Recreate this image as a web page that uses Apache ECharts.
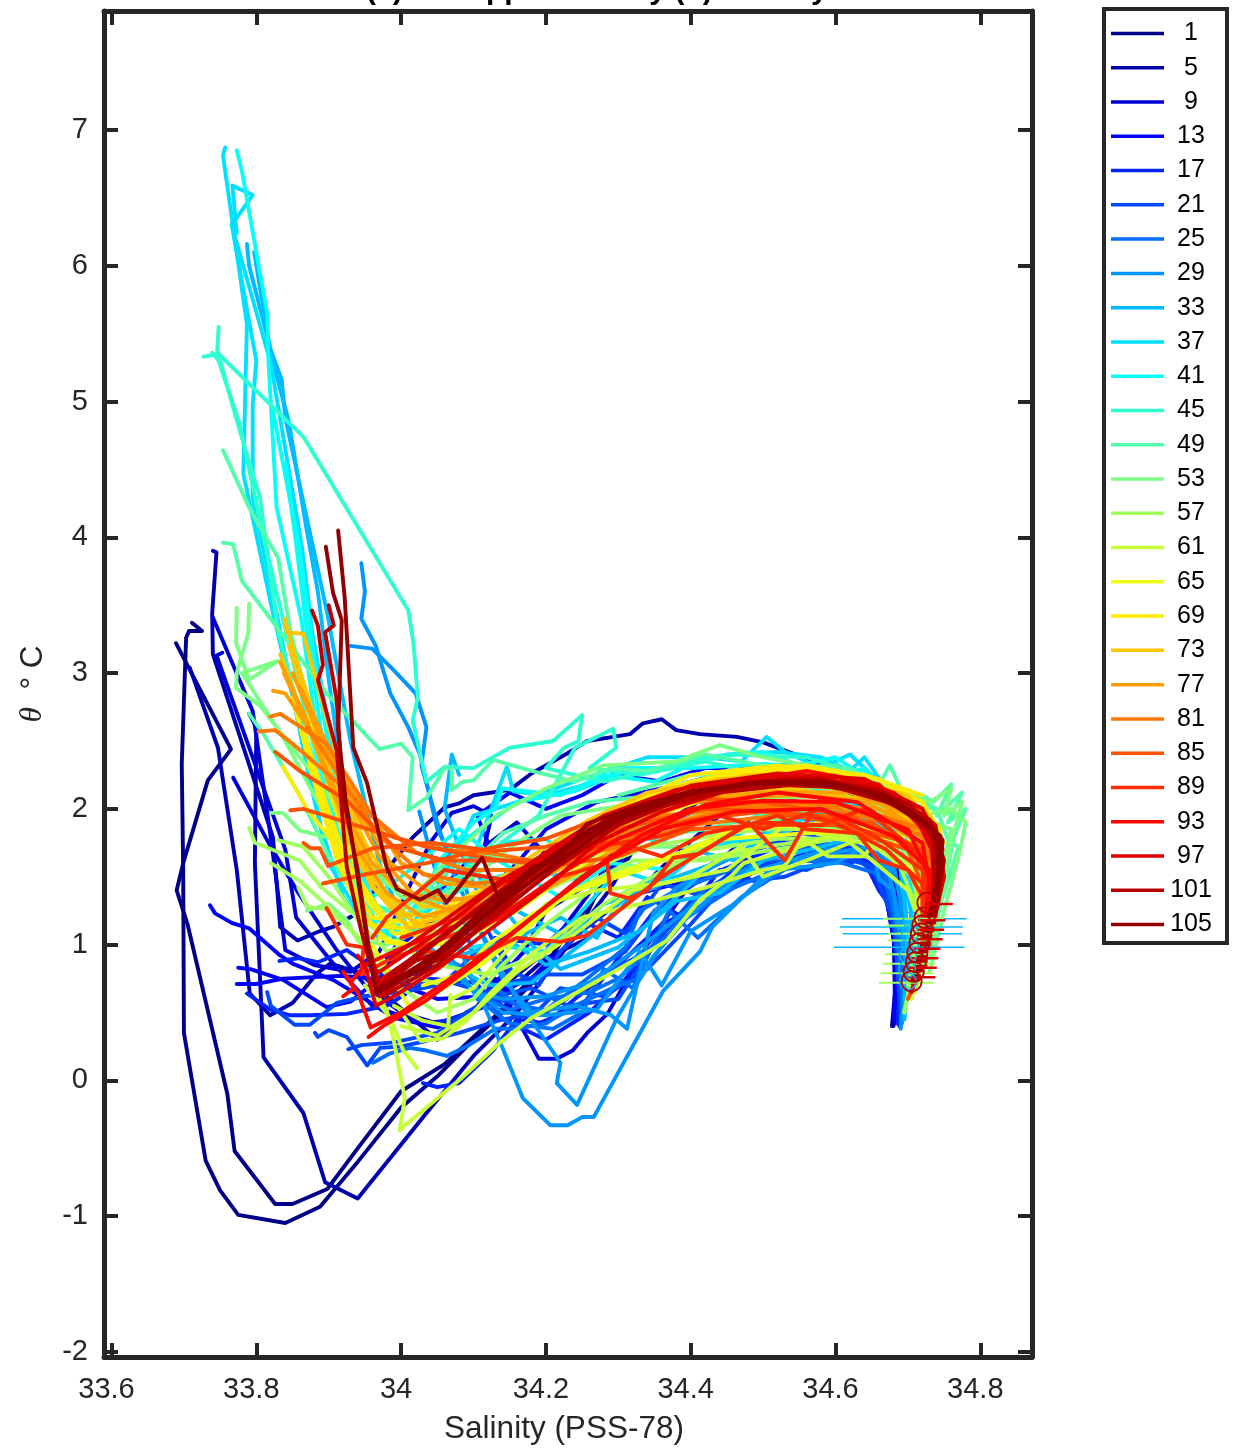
<!DOCTYPE html>
<html><head><meta charset="utf-8">
<style>html,body{margin:0;padding:0;background:#fff}#c{width:1234px;height:1448px}</style>
<script src="https://cdn.jsdelivr.net/npm/echarts@6/dist/echarts.min.js"></script>
</head><body><div id="c"></div>
<script>
const legendCasts=[1,5,9,13,17,21,25,29,33,37,41,45,49,53,57,61,65,69,73,77,81,85,89,93,97,101,105];
const castColors=['#000089','#0000af','#0000d5','#0000fb','#0023ff','#0049ff','#006fff','#0095ff','#00bbff','#00e1ff','#08fff7','#2effd1','#55ffaa','#7bff84','#a1ff5e','#c7ff38','#edff12','#ffeb00','#ffc500','#ff9e00','#ff7800','#ff5200','#ff2c00','#ff0600','#df0000','#b90000','#930000'];
const xTicks=[33.6,33.8,34,34.2,34.4,34.6,34.8];
const yTicks=[-2,-1,0,1,2,3,4,5,6,7];

const g01=[
[[33.711,3.37],[33.725,3.31],[33.707,3.31],[33.703,3.26],[33.697,2.33],[33.699,1.55],[33.70,.35],[33.73,-.59],[33.75,-.81],[33.775,-.99],[33.84,-1.05],[33.888,-.93],[33.94,-.6],[34.0,-.2],[34.05,.03],[34.1,.3],[34.15,.55],[34.215,.9],[34.25,1.15],[34.285,1.55],[34.34,1.9],[34.4,2.17],[34.47,2.3],[34.55,2.33],[34.62,2.25],[34.67,1.95],[34.685,1.6],[34.69,1.1],[34.683,.7],[34.678,.4]],
[[33.689,3.22],[33.765,2.44],[33.733,2.21],[33.699,1.6],[33.69,1.4],[33.705,1.15],[33.76,-.1],[33.77,-.52],[33.826,-.91],[33.85,-.91],[33.898,-.8],[33.94,-.5],[34.0,-.08],[34.06,.12],[34.12,.42],[34.2,.86],[34.26,1.3],[34.31,1.62],[34.36,2.0],[34.42,2.2],[34.5,2.25],[34.6,2.2],[34.66,1.9],[34.675,1.55],[34.69,1.0],[34.68,.42]]
];
const g05=[
[[33.74,3.9],[33.745,3.89],[33.739,3.44],[33.74,3.14],[33.823,1.79],[33.833,1.13],[33.857,1.03],[33.888,1.1],[33.906,1.13],[33.945,1.25],[33.98,1.55],[34.016,1.79],[34.06,2.01],[34.08,2.04],[34.1,2.1],[34.15,2.14],[34.18,2.26],[34.23,2.41],[34.257,2.5],[34.293,2.53],[34.316,2.55],[34.334,2.63],[34.36,2.66],[34.38,2.58],[34.413,2.55],[34.464,2.53],[34.5,2.49],[34.555,2.38],[34.6,2.28],[34.65,2.05],[34.668,1.75],[34.69,1.2],[34.685,.7],[34.68,.4]],
[[33.708,3.04],[33.747,2.45],[33.773,1.55],[33.791,.64],[33.819,.48],[33.85,.57],[33.884,.79],[33.902,.86],[33.94,.8],[33.98,.62],[34.05,.3],[34.09,.5],[34.14,.62],[34.2,.9],[34.26,1.05],[34.31,1.3],[34.37,1.62],[34.44,1.95],[34.52,2.05],[34.6,1.9],[34.655,1.65],[34.66,1.42],[34.672,1.55],[34.675,1.3],[34.69,1.28],[34.682,1.12],[34.692,.95],[34.683,.6],[34.682,.42]],
[[33.79,2.7],[33.8,2.6],[33.798,1.6],[33.81,.17],[33.865,-.24],[33.895,-.75],[33.94,-.87],[34.035,-.24],[34.1,.18],[34.16,.5],[34.22,.92],[34.29,1.42],[34.33,1.78],[34.41,2.05],[34.5,2.1],[34.6,2.0],[34.665,1.7],[34.68,1.2],[34.686,.6]]
];
const g09=[
[[33.74,3.41],[33.795,2.72],[33.82,1.79],[33.84,.96],[33.88,.85],[33.93,.8],[33.97,.95],[34.0,1.3],[34.04,1.75],[34.07,1.97],[34.1,2.02],[34.125,1.95],[34.115,1.72],[34.16,1.9],[34.21,1.6],[34.26,1.68],[34.31,1.95],[34.38,2.1],[34.47,2.2],[34.56,2.15],[34.64,1.95],[34.665,1.6],[34.672,1.35],[34.685,1.45],[34.69,1.0],[34.684,.45]],
[[33.768,2.23],[33.82,1.72],[33.858,1.38],[33.911,.96],[33.95,.7],[34.0,.5],[34.05,.42],[34.1,.5],[34.13,.75],[34.19,.16],[34.215,.16],[34.237,.22],[34.257,.35],[34.285,.49],[34.34,1.0],[34.4,1.45],[34.47,1.75],[34.56,1.85],[34.655,1.72],[34.66,1.45],[34.68,1.2],[34.685,.5]],
[[33.753,3.15],[33.745,3.13],[33.84,1.7],[33.855,1.2],[33.9,.9],[33.96,.55],[34.03,.42],[34.08,.45],[34.12,.6],[34.2,.95],[34.27,1.45],[34.3,1.8],[34.36,2.15],[34.44,2.25],[34.52,2.2],[34.6,2.05],[34.665,1.75],[34.68,1.2],[34.682,.6]]
];
const g13=[
[[33.736,1.29],[33.743,1.23],[33.766,1.16],[33.79,1.12],[33.833,.92],[33.85,.86],[33.906,.74],[33.953,.59],[33.99,.46],[34.05,.39],[34.1,.5],[34.13,.72],[34.17,.95],[34.2,1.25],[34.29,1.55],[34.35,1.88],[34.43,2.02],[34.55,2.03],[34.64,1.85],[34.665,1.5],[34.685,.9],[34.68,.45]],
[[33.775,.83],[33.792,.82],[33.837,.74],[33.897,.54],[33.93,.58],[33.97,.75],[34.0,1.0],[34.06,1.25],[34.12,1.4],[34.16,1.6],[34.2,1.85],[34.27,2.05],[34.36,2.15],[34.48,2.2],[34.57,2.1],[34.65,1.9],[34.668,1.55],[34.688,1.0],[34.685,.45]],
[[33.773,.71],[33.8,.71],[33.837,.75],[33.916,.77],[33.945,.76],[33.99,.72],[34.05,.6],[34.12,.62],[34.18,.75],[34.25,1.1],[34.31,1.35],[34.38,1.45],[34.46,1.65],[34.54,1.78],[34.64,1.7],[34.67,1.35],[34.688,.8],[34.684,.42]],
[[33.98,.9],[34.03,1.25],[34.08,1.55],[34.12,1.75],[34.105,1.95],[34.15,2.12],[34.2,2.0],[34.25,2.1],[34.3,2.25],[34.36,2.2],[34.42,2.3],[34.5,2.3],[34.58,2.25],[34.64,2.1],[34.665,1.7],[34.69,1.0]]
];
const g17=[
[[33.787,.64],[33.82,.52],[33.846,.48],[33.874,.48],[33.925,.49],[33.98,.55],[34.04,.75],[34.1,.72],[34.14,.55],[34.19,.42],[34.25,.55],[34.3,.9],[34.35,1.25],[34.42,1.5],[34.52,1.72],[34.63,1.72],[34.66,1.4],[34.68,1.25],[34.69,.8],[34.686,.42]],
[[33.832,.88],[33.858,.9],[33.885,.87],[33.925,.96],[33.96,.83],[34.0,.7],[34.06,.9],[34.1,.75],[34.14,.45],[34.2,.3],[34.26,.5],[34.31,.75],[34.39,1.25],[34.46,1.55],[34.56,1.75],[34.64,1.62],[34.672,1.5],[34.678,1.2],[34.692,.7],[34.688,.4]],
[[34.03,-.02],[34.05,-.05],[34.08,-.02],[34.127,.22],[34.16,.45],[34.2,.42],[34.24,.6],[34.3,.85],[34.36,1.15],[34.42,1.3],[34.5,1.58],[34.6,1.72],[34.66,1.55],[34.685,1.0],[34.69,.45]],
[[34.05,.42],[34.12,.55],[34.15,.85],[34.13,1.05],[34.2,1.0],[34.24,1.2],[34.3,1.05],[34.34,1.35],[34.39,1.2],[34.44,1.55],[34.5,1.45],[34.56,1.7],[34.62,1.6],[34.66,1.7],[34.668,1.45],[34.678,1.25],[34.69,1.0],[34.69,.55]]
];
const g21=[
[[33.815,.65],[33.82,.55],[33.853,.41],[33.874,.41],[33.911,.57],[33.95,.62],[34.01,.66],[34.07,.72],[34.115,.65],[34.15,.72],[34.2,.78],[34.25,.78],[34.31,.95],[34.36,1.3],[34.43,1.6],[34.55,1.82],[34.65,1.75],[34.675,1.35],[34.695,.8],[34.69,.42]],
[[33.881,.35],[33.885,.32],[33.9,.37],[33.925,.32],[33.933,.26],[33.953,.11],[33.971,.24],[34.0,.25],[34.026,.28],[34.08,.35],[34.14,.45],[34.2,.5],[34.27,.75],[34.34,.95],[34.41,1.38],[34.47,1.55],[34.58,1.75],[34.66,1.62],[34.68,1.2],[34.69,.5]],
[[33.927,.23],[33.945,.26],[33.99,.28],[34.05,.35],[34.09,.5],[34.13,.62],[34.18,.68],[34.23,.55],[34.3,.6],[34.33,.85],[34.37,1.15],[34.44,1.45],[34.53,1.62],[34.62,1.68],[34.67,1.45],[34.69,1.0],[34.69,.45]],
[[34.0,.7],[34.06,.72],[34.11,.98],[34.14,.85],[34.19,.7],[34.22,.95],[34.27,1.2],[34.31,1.08],[34.36,1.45],[34.42,1.35],[34.48,1.62],[34.56,1.55],[34.63,1.72],[34.67,1.6],[34.68,1.28],[34.695,1.05],[34.692,.5]],
[[34.12,1.1],[34.15,.8],[34.13,.6],[34.19,.52],[34.22,.68],[34.28,.62],[34.34,.82],[34.4,1.15],[34.45,1.45],[34.53,1.5],[34.6,1.65],[34.65,1.58],[34.675,1.25],[34.69,.9],[34.69,.5]]
];
const g25=[
[[33.961,.13],[33.985,.2],[34.012,.24],[34.035,.22],[34.063,.18],[34.09,.25],[34.13,.38],[34.16,.38],[34.2,.42],[34.24,.55],[34.3,.7],[34.33,.75],[34.38,1.15],[34.42,1.42],[34.5,1.55],[34.58,1.58],[34.66,1.75],[34.675,1.35],[34.695,.9],[34.69,.4]],
[[34.06,.9],[34.09,.82],[34.11,.62],[34.15,.52],[34.2,.6],[34.26,.65],[34.3,.75],[34.35,.98],[34.395,1.2],[34.46,1.42],[34.54,1.6],[34.64,1.68],[34.672,1.5],[34.695,1.1],[34.692,.5]],
[[34.09,1.1],[34.1,.9],[34.11,.78],[34.16,.55],[34.2,.52],[34.25,.72],[34.31,.98],[34.33,1.25],[34.38,1.4],[34.48,1.6],[34.6,1.75],[34.67,1.7],[34.68,1.3],[34.695,.5]],
[[34.1,.62],[34.15,.42],[34.21,.38],[34.25,.5],[34.28,.82],[34.32,.68],[34.37,1.25],[34.41,1.05],[34.47,1.35],[34.55,1.62],[34.61,1.6],[34.66,1.52],[34.685,1.3],[34.7,1.0],[34.695,.6]]
];
const g29=[
[[34.025,1.98],[34.06,1.3],[34.09,.85],[34.14,.24],[34.168,-.13],[34.206,-.33],[34.23,-.33],[34.25,-.27],[34.266,-.27],[34.362,.66],[34.413,.95],[34.43,1.13],[34.5,1.5],[34.523,1.6],[34.6,1.72],[34.66,1.8],[34.68,1.4],[34.7,.8],[34.69,.38]],
[[33.945,3.81],[33.95,3.6],[33.945,3.4],[33.965,3.2],[33.985,2.85],[34.01,2.6],[34.026,2.4],[34.05,1.85],[34.08,1.55],[34.11,1.1],[34.16,.6],[34.22,.13],[34.215,-.02],[34.243,-.18],[34.298,.46],[34.348,.91],[34.395,1.2],[34.46,1.5],[34.56,1.65],[34.65,1.72],[34.675,1.5],[34.7,.9],[34.692,.42]],
[[33.93,3.2],[33.96,3.18],[33.99,3.02],[34.02,2.85],[34.035,2.6],[34.028,2.32],[34.05,1.9],[34.07,1.55],[34.1,1.2],[34.14,.75],[34.18,.5],[34.24,.55],[34.29,.48],[34.312,.38],[34.348,1.23],[34.38,1.42],[34.44,1.6],[34.53,1.85],[34.64,1.9],[34.68,1.6],[34.7,1.0],[34.695,.45]],
[[34.08,.75],[34.14,.5],[34.2,.48],[34.27,.52],[34.33,.95],[34.36,.7],[34.4,1.1],[34.46,1.3],[34.52,1.55],[34.6,1.6],[34.65,1.75],[34.66,1.48],[34.68,1.4],[34.685,1.15],[34.7,.9],[34.696,.5]],
[[34.05,1.05],[34.1,.65],[34.14,.6],[34.2,.62],[34.26,.72],[34.34,1.02],[34.44,1.45],[34.52,1.68],[34.62,1.82],[34.67,1.65],[34.695,1.3]]
];
const g33=[
[[33.787,6.16],[33.79,6.0],[33.82,5.38],[33.835,5.16],[33.84,4.88],[33.898,3.44],[33.93,2.5],[33.97,1.6],[34.0,1.2],[34.03,1.02],[34.07,.85],[34.12,.7],[34.18,.72],[34.26,1.05],[34.32,1.35],[34.38,1.5],[34.46,1.65],[34.56,1.9],[34.64,2.05],[34.69,1.8],[34.705,1.2],[34.695,.6]],
[[33.797,6.1],[33.82,5.35],[33.845,4.85],[33.868,4.1],[33.885,3.6],[33.9,2.95],[33.92,2.2],[33.955,1.4],[33.99,1.05],[34.05,.88],[34.1,.95],[34.16,1.05],[34.22,1.2],[34.27,1.05],[34.3,1.3],[34.38,1.6],[34.48,1.85],[34.58,1.95],[34.66,1.95],[34.695,1.5],[34.7,.9],[34.695,.45]],
[[34.08,2.25],[34.07,2.4],[34.06,2.0],[34.08,1.72],[34.1,1.45],[34.13,1.1],[34.2,.85],[34.26,.95],[34.33,1.1],[34.42,1.55],[34.52,1.9],[34.62,2.0],[34.68,1.8],[34.705,1.3],[34.7,.7]],
[[34.03,1.2],[34.1,1.15],[34.16,1.25],[34.23,1.05],[34.28,1.3],[34.35,1.42],[34.4,1.7],[34.46,1.62],[34.52,1.92],[34.6,1.85],[34.66,2.0],[34.7,1.7],[34.71,1.1]],
[[34.1,1.55],[34.14,1.28],[34.18,1.0],[34.22,.82],[34.3,.98],[34.38,1.32],[34.44,1.38],[34.5,1.62],[34.58,1.72],[34.66,1.85],[34.69,1.55],[34.7,1.1],[34.695,.65]]
];
const g37=[
[[33.757,6.87],[33.754,6.81],[33.787,5.57],[33.782,4.47],[33.823,3.44],[33.86,2.6],[33.89,1.85],[33.92,1.35],[33.96,1.05],[34.0,1.1],[34.05,1.3],[34.1,1.65],[34.146,2.31],[34.155,2.13],[34.2,2.1],[34.27,2.2],[34.31,2.3],[34.36,2.3],[34.45,2.4],[34.52,2.42],[34.58,2.38],[34.62,2.28],[34.64,2.38],[34.69,2.0],[34.715,1.4],[34.705,.8]],
[[33.773,6.24],[33.767,6.59],[33.795,6.52],[33.766,6.3],[33.82,5.28],[33.863,3.93],[33.877,3.31],[33.9,2.6],[33.92,1.9],[33.96,1.2],[34.01,1.1],[34.06,1.5],[34.1,1.95],[34.16,2.05],[34.25,2.22],[34.34,2.38],[34.42,2.38],[34.47,2.35],[34.505,2.53],[34.53,2.42],[34.58,2.3],[34.62,2.4],[34.68,2.1],[34.715,1.5],[34.71,.9]],
[[33.766,6.3],[33.8,5.3],[33.795,4.98],[33.795,4.29],[33.833,3.31],[33.87,2.3],[33.9,1.6],[33.95,1.15],[34.03,1.1],[34.1,1.35],[34.18,1.55],[34.27,1.45],[34.34,1.6],[34.44,1.75],[34.56,2.05],[34.66,2.05],[34.7,1.7],[34.712,1.1]],
[[34.06,.95],[34.12,1.0],[34.2,.95],[34.25,1.25],[34.3,1.55],[34.36,1.45],[34.42,1.72],[34.5,1.8],[34.58,2.0],[34.66,1.9],[34.7,1.55]]
];
const g41=[
[[33.773,6.85],[33.78,6.7],[33.815,5.65],[33.817,5.28],[33.828,4.22],[33.862,3.4],[33.88,2.7],[33.905,1.95],[33.94,1.3],[33.98,1.05],[34.03,1.35],[34.09,1.78],[34.16,2.05],[34.24,2.13],[34.32,2.3],[34.4,2.3],[34.5,2.33],[34.6,2.3],[34.64,2.28],[34.7,2.0],[34.725,1.4],[34.71,.9]],
[[33.823,4.93],[33.86,3.9],[33.88,3.1],[33.905,2.3],[33.93,1.6],[33.97,1.1],[34.02,1.1],[34.05,1.6],[34.1,1.9],[34.13,2.0],[34.14,2.15],[34.22,2.1],[34.28,2.25],[34.35,2.2],[34.42,2.38],[34.5,2.42],[34.55,2.32],[34.6,2.38],[34.65,2.2],[34.71,1.9],[34.725,1.45],[34.715,1]],
[[33.84,4.55],[33.855,3.95],[33.87,3.3],[33.89,2.55],[33.92,1.8],[33.96,1.35],[34.0,1.5],[34.08,1.85],[34.14,1.6],[34.22,1.35],[34.29,1.6],[34.37,1.55],[34.44,1.75],[34.54,2.15],[34.63,2.15],[34.7,1.95],[34.725,1.4]],
[[34.14,1.75],[34.2,1.78],[34.25,1.55],[34.3,1.85],[34.36,1.75],[34.42,2.0],[34.5,2.0],[34.58,2.2],[34.64,2.3],[34.7,1.95]]
];
const g45=[
[[33.727,5.33],[33.748,5.35],[33.865,4.74],[34.01,3.46],[34.017,3.22],[34.023,2.82],[34.016,2.65],[34.035,2.2],[34.06,2.31],[34.1,2.3],[34.15,2.45],[34.21,2.5],[34.25,2.69],[34.245,2.5],[34.225,2.45],[34.2,2.3],[34.28,2.2],[34.36,2.3],[34.46,2.4],[34.56,2.38],[34.66,2.2],[34.72,1.95],[34.74,1.5],[34.72,1]],
[[33.748,5.55],[33.746,5.38],[33.773,4.86],[33.805,4.29],[33.83,3.31],[33.865,2.6],[33.9,2.0],[33.94,1.45],[33.985,1.15],[34.05,1.35],[34.12,1.68],[34.19,1.95],[34.24,2.45],[34.293,2.59],[34.297,2.45],[34.26,2.3],[34.33,2.25],[34.42,2.35],[34.5,2.25],[34.6,2.28],[34.7,2.05],[34.74,1.6],[34.725,1]],
[[33.739,5.36],[33.748,5.3],[33.776,4.85],[33.81,4.0],[33.85,3.1],[33.88,2.45],[33.92,1.7],[33.96,1.3],[34.01,1.2],[34.1,1.45],[34.2,1.6],[34.3,1.75],[34.4,1.92],[34.52,2.1],[34.62,2.15],[34.72,1.9],[34.74,1.4],[34.72,.9]]
];
const g49=[
[[33.754,3.96],[33.768,3.95],[33.78,3.68],[33.828,3.34],[33.897,2.85],[33.97,2.44],[34.0,2.48],[34.016,2.38],[34.01,1.99],[34.035,2.08],[34.06,2.3],[34.07,2.3],[34.07,2.14],[34.085,2.2],[34.1,2.21],[34.127,2.36],[34.18,2.28],[34.24,2.2],[34.29,2.3],[34.34,2.28],[34.42,2.4],[34.52,2.3],[34.6,2.32],[34.7,2.1],[34.745,1.75],[34.735,1.2]],
[[33.754,4.64],[33.79,4.22],[33.83,3.85],[33.847,3.31],[33.88,2.6],[33.92,1.95],[33.96,1.5],[34.02,1.35],[34.08,1.5],[34.14,1.82],[34.2,1.95],[34.26,2.05],[34.36,2.1],[34.45,2.2],[34.54,2.25],[34.66,2.2],[34.74,2.0],[34.76,1.7],[34.735,1.1]],
[[33.79,2.7],[33.81,2.55],[33.86,2.1],[33.9,1.65],[33.95,1.25],[34.0,1.25],[34.05,1.48],[34.1,1.68],[34.16,1.6],[34.24,1.7],[34.32,1.78],[34.42,1.85],[34.5,1.95],[34.6,2.0],[34.72,2.02],[34.77,1.95],[34.752,1.5],[34.73,1.0]],
[[34.3,2.1],[34.4,2.25],[34.5,2.25],[34.62,2.3],[34.66,2.18],[34.675,2.32],[34.69,2.15],[34.72,2.1],[34.735,2.05],[34.76,2.18],[34.74,1.95],[34.775,2.12],[34.755,1.9],[34.78,2.0],[34.76,1.75],[34.77,1.72],[34.745,1.3],[34.73,.9]]
];
const g53=[
[[33.79,3.51],[33.789,3.3],[33.773,3.0],[33.772,2.89],[33.805,2.76],[33.85,2.45],[33.9,2.1],[33.95,1.55],[34.0,1.25],[34.06,1.6],[34.13,1.95],[34.2,2.15],[34.28,2.32],[34.38,2.35],[34.44,2.47],[34.5,2.38],[34.58,2.3],[34.66,2.18],[34.7,2.12],[34.73,2.05],[34.76,2.15],[34.75,1.95],[34.775,2.05],[34.76,1.75],[34.745,1.3]],
[[33.773,3.48],[33.772,3.22],[33.79,2.95],[33.83,3.09],[33.78,3.0],[33.84,2.5],[33.89,2.0],[33.94,1.4],[33.98,1.15],[34.04,1.3],[34.1,1.5],[34.16,1.75],[34.22,1.95],[34.3,2.02],[34.38,2.18],[34.46,2.25],[34.56,2.2],[34.64,2.05],[34.72,1.95],[34.76,2.0],[34.78,1.9],[34.77,1.65],[34.75,1.25],[34.73,.8]],
[[33.82,1.97],[33.837,1.97],[33.86,1.84],[33.906,1.78],[33.95,1.62],[34.0,1.35],[34.06,1.25],[34.12,1.3],[34.2,1.55],[34.3,1.72],[34.4,1.72],[34.5,1.9],[34.6,2.02],[34.68,1.95],[34.74,1.75],[34.74,1.25]],
[[33.87,1.25],[33.9,1.3],[33.925,1.18],[33.94,1.03],[33.98,1.0],[34.06,1.18],[34.15,1.45],[34.25,1.75],[34.35,1.9],[34.46,2.05],[34.58,2.1],[34.7,1.98],[34.76,1.85],[34.74,1.4]]
];
const g57=[
[[33.79,1.86],[33.798,1.75],[33.86,1.62],[33.89,1.42],[33.94,1.2],[34.0,.98],[34.05,.85],[34.12,.78],[34.2,.95],[34.28,1.3],[34.38,1.6],[34.5,1.72],[34.58,1.78],[34.66,1.85],[34.71,1.62],[34.72,1.1],[34.7,.6]],
[[33.83,1.77],[33.865,1.72],[33.9,1.5],[33.94,1.18],[33.98,.95],[34.04,1.05],[34.1,1.15],[34.18,1.35],[34.26,1.55],[34.34,1.72],[34.45,1.82],[34.56,1.88],[34.66,1.78],[34.72,1.55],[34.715,1.0],[34.695,.5]],
[[33.82,1.6],[33.86,1.47],[33.895,1.3],[33.93,1.12],[33.96,.88],[34.0,.68],[34.05,.5],[34.1,.6],[34.14,.85],[34.2,1.15],[34.3,1.55],[34.4,1.68],[34.52,1.78],[34.62,1.78],[34.7,1.62],[34.72,1.2],[34.7,.7]],
[[33.858,1.42],[33.87,1.28],[33.9,1.26],[33.94,1.06],[33.985,.8],[34.06,.7],[34.13,.95],[34.22,1.35],[34.32,1.62],[34.42,1.62],[34.54,1.72],[34.64,1.82],[34.71,1.48],[34.715,1.0]],
[[34.5,1.85],[34.6,1.85],[34.68,1.7],[34.71,1.3],[34.71,.9],[34.7,.62],[34.695,.5]]
];
const g61=[
[[33.97,.6],[33.98,.52],[33.99,.29],[34.005,-.13],[33.998,-.37],[34.005,-.33],[34.026,-.24],[34.084,.02],[34.137,.28],[34.18,.46],[34.32,.88],[34.367,1.03],[34.413,1.33],[34.455,1.5],[34.473,1.6],[34.55,1.72],[34.6,1.82],[34.66,1.7],[34.71,1.5],[34.72,1.0],[34.705,.6]],
[[33.95,.7],[33.985,.46],[34.003,.22],[34.022,.09]],
[[33.998,.52],[34.027,.29],[34.058,.31],[34.09,.44],[34.123,.64],[34.182,.94],[34.25,1.2],[34.33,1.3],[34.42,1.42],[34.5,1.55],[34.53,1.58],[34.555,1.78],[34.59,1.65],[34.64,1.65],[34.66,1.82],[34.71,1.55],[34.725,1.05],[34.71,.65]],
[[33.99,.55],[34.03,.44],[34.065,.4],[34.068,.63],[34.07,.6],[34.1,.68],[34.145,.95],[34.2,1.3],[34.27,1.4],[34.36,1.45],[34.45,1.55],[34.53,1.88],[34.6,1.78],[34.68,1.72],[34.72,1.45]],
[[34.0,.4],[34.05,.33],[34.1,.5],[34.16,.8],[34.24,1.08],[34.32,1.4],[34.4,1.5],[34.47,1.72],[34.5,1.5],[34.56,1.62],[34.62,1.75],[34.66,1.58],[34.7,1.4],[34.72,1.1]]
];
const g65=[
[[34.03,.7],[34.08,.78],[34.12,1.0],[34.18,1.22],[34.26,1.45],[34.35,1.62],[34.45,1.78],[34.56,1.82],[34.66,1.85],[34.725,1.6],[34.73,1.1],[34.71,.7]],
[[33.96,1.0],[34.01,.55],[34.05,.65],[34.11,.85],[34.17,1.1],[34.23,1.38],[34.33,1.55],[34.46,1.85],[34.6,1.9],[34.7,1.8],[34.73,1.4]],
[[33.97,1.05],[34.03,.98],[34.09,1.05],[34.16,1.25],[34.24,1.55],[34.34,1.85],[34.44,2.08],[34.56,2.2],[34.68,2.1],[34.74,1.7]]
];
const g69=[
[[33.837,2.31],[33.87,2.0],[33.916,1.69],[33.945,1.25],[33.98,1.02],[34.03,.98],[34.1,1.25],[34.18,1.6],[34.26,1.88],[34.34,2.08],[34.42,2.22],[34.52,2.28],[34.62,2.2],[34.7,2.08],[34.74,1.75],[34.735,1.15]],
[[33.85,2.82],[33.88,2.2],[33.91,1.65],[33.95,1.15],[34.0,1.12],[34.08,1.32],[34.16,1.5],[34.24,1.78],[34.32,2.04],[34.4,2.2],[34.5,2.3],[34.6,2.27],[34.69,2.12],[34.745,1.85],[34.735,1.25]],
[[33.865,2.6],[33.89,2.1],[33.92,1.55],[33.96,1.2],[34.02,1.15],[34.1,1.38],[34.2,1.55],[34.28,1.85],[34.38,2.0],[34.5,2.2],[34.62,2.22],[34.72,2.05],[34.75,1.75]],
[[33.86,2.95],[33.885,2.45],[33.915,1.9],[33.945,1.45],[33.985,1.15],[34.04,1.02],[34.12,1.28],[34.2,1.62],[34.28,1.95],[34.36,2.14],[34.46,2.28],[34.56,2.32],[34.66,2.22],[34.72,2.05],[34.745,1.82],[34.74,1.45]],
[[33.875,2.4],[33.9,1.98],[33.925,1.62],[33.955,1.32],[33.99,1.08],[34.06,1.1],[34.14,1.42],[34.22,1.75],[34.3,2.0],[34.4,2.25],[34.52,2.32],[34.64,2.25],[34.72,2.1]]
];
const g73=[
[[33.84,3.4],[33.842,3.3],[33.865,3.29],[33.897,2.67],[33.925,2.1],[33.955,1.55],[33.99,1.25],[34.04,1.12],[34.1,1.35],[34.18,1.65],[34.26,1.92],[34.34,2.12],[34.44,2.22],[34.56,2.25],[34.66,2.15],[34.73,1.95],[34.745,1.6],[34.73,1.2]],
[[33.842,3.35],[33.87,2.8],[33.9,2.25],[33.93,1.8],[33.965,1.4],[34.01,1.12],[34.08,1.18],[34.16,1.48],[34.25,1.78],[34.35,2.05],[34.48,2.2],[34.6,2.2],[34.7,2.05],[34.745,1.7],[34.73,1.1]],
[[33.833,3.14],[33.86,2.75],[33.89,2.35],[33.923,1.83],[33.96,1.42],[34.0,1.22],[34.06,1.22],[34.15,1.5],[34.24,1.72],[34.32,1.9],[34.42,2.1],[34.54,2.15],[34.66,2.05],[34.74,1.8],[34.73,1.0]],
[[33.845,3.2],[33.875,2.7],[33.91,2.15],[33.94,1.75],[33.975,1.4],[34.02,1.15],[34.09,1.25],[34.17,1.55],[34.26,1.85],[34.36,2.1],[34.48,2.25],[34.6,2.25],[34.7,2.1],[34.742,1.8]],
[[33.855,3.1],[33.885,2.6],[33.915,2.2],[33.95,1.75],[33.985,1.45],[34.03,1.28],[34.1,1.28],[34.18,1.5],[34.28,1.82],[34.38,2.06],[34.5,2.18],[34.62,2.15],[34.71,1.98],[34.745,1.65]]
];
const g77=[
[[33.833,3.08],[33.87,2.65],[33.9,2.2],[33.94,1.7],[33.98,1.38],[34.03,1.2],[34.1,1.32],[34.18,1.6],[34.28,1.85],[34.38,2.05],[34.5,2.12],[34.62,2.12],[34.72,1.92],[34.74,1.55],[34.725,.95]],
[[33.823,2.87],[33.84,2.85],[33.906,2.33],[33.961,1.94],[34.0,1.6],[34.06,1.45],[34.12,1.42],[34.2,1.6],[34.3,1.85],[34.4,2.05],[34.52,2.12],[34.64,2.05],[34.72,1.85],[34.74,1.5]],
[[33.85,3.0],[33.89,2.5],[33.93,2.05],[33.97,1.65],[34.02,1.35],[34.08,1.22],[34.16,1.3],[34.24,1.52],[34.33,1.82],[34.44,2.0],[34.56,2.02],[34.66,2.0],[34.73,1.75],[34.735,1.3]],
[[33.86,2.9],[33.9,2.45],[33.94,2.0],[33.985,1.6],[34.04,1.38],[34.11,1.3],[34.19,1.48],[34.3,1.78],[34.4,1.98],[34.52,2.05],[34.64,2.0],[34.73,1.7]],
[[33.838,3.0],[33.88,2.5],[33.92,2.0],[33.96,1.6],[34.0,1.4],[34.06,1.32],[34.14,1.38],[34.22,1.6],[34.3,1.88],[34.4,2.08],[34.54,2.1],[34.66,2.05],[34.735,1.75]]
];
const g81=[
[[33.819,2.68],[33.833,2.7],[33.897,2.48],[33.96,1.95],[34.02,1.68],[34.09,1.55],[34.16,1.55],[34.24,1.65],[34.32,1.78],[34.42,1.95],[34.52,2.05],[34.62,2.02],[34.72,1.85],[34.74,1.5],[34.72,.9]],
[[33.803,2.57],[33.826,2.58],[33.85,2.48],[33.92,2.16],[33.99,1.79],[34.06,1.7],[34.127,1.67],[34.2,1.6],[34.3,1.72],[34.4,1.88],[34.52,1.95],[34.64,1.95],[34.72,1.8],[34.74,1.45],[34.72,.85]],
[[33.87,2.6],[33.92,2.2],[33.97,1.8],[34.03,1.52],[34.1,1.45],[34.17,1.48],[34.26,1.72],[34.36,1.95],[34.48,2.02],[34.6,2.0],[34.7,1.85],[34.735,1.55]]
];
const g85=[
[[33.826,2.42],[33.86,2.28],[33.925,2.06],[33.99,1.72],[34.06,1.62],[34.13,1.62],[34.21,1.62],[34.3,1.78],[34.4,1.92],[34.5,1.98],[34.6,1.9],[34.7,1.75],[34.735,1.4],[34.72,.85],[34.7,.6]],
[[33.847,1.99],[33.865,2.0],[33.961,1.84],[34.035,1.72],[34.127,1.63],[34.21,1.58],[34.3,1.65],[34.4,1.85],[34.5,1.88],[34.6,1.88],[34.7,1.7],[34.73,1.3]],
[[33.865,1.75],[33.875,1.71],[33.888,1.71],[33.899,1.58],[33.961,1.71],[34.04,1.75],[34.127,1.69],[34.2,1.72],[34.3,1.85],[34.42,2.0],[34.52,1.98],[34.65,1.9],[34.72,1.65],[34.73,1.2]],
[[33.892,1.45],[33.953,1.52],[34.035,1.6],[34.13,1.72],[34.2,1.78],[34.3,1.98],[34.4,2.08],[34.5,2.05],[34.62,1.95],[34.72,1.7],[34.73,1.15]]
];
const g89=[
[[33.97,.72],[34.035,.95],[34.1,.9],[34.16,1.05],[34.22,1.02],[34.257,1.07],[34.32,1.33],[34.36,1.5],[34.42,1.7],[34.478,1.88],[34.52,1.95],[34.56,1.85],[34.63,1.82],[34.66,1.62],[34.7,1.55],[34.725,1.3],[34.725,.85]],
[[33.897,1.27],[33.925,1.0],[33.948,.98],[33.945,.78],[33.98,.88],[34.06,1.05],[34.14,1.2],[34.22,1.5],[34.285,1.6],[34.289,1.38],[34.315,1.34],[34.34,1.4],[34.376,1.64],[34.413,1.67],[34.48,1.9],[34.53,1.62],[34.565,1.95],[34.6,1.9],[34.67,1.7],[34.72,1.45],[34.72,.85]],
[[33.96,1.05],[33.98,1.2],[34.06,1.55],[34.14,1.48],[34.22,1.72],[34.3,1.75],[34.36,1.65],[34.42,1.82],[34.5,1.9],[34.58,1.88],[34.64,2.0],[34.72,1.65],[34.735,1.2]],
[[34.0,1.05],[34.08,1.2],[34.18,1.5],[34.27,1.72],[34.36,1.8],[34.44,1.95],[34.5,1.85],[34.58,2.0],[34.66,1.78],[34.72,1.55],[34.73,1.0]]
];
const g93=[
[[33.92,.8],[33.94,.65],[33.958,.39],[34.0,.5],[34.06,.72],[34.12,.95],[34.2,1.28],[34.28,1.6],[34.36,1.85],[34.46,1.98],[34.58,2.0],[34.68,1.8],[34.73,1.55],[34.725,1.05],[34.705,.65]],
[[33.92,.62],[33.935,.68],[33.93,.72],[33.95,.85],[33.99,.95],[34.08,1.15],[34.16,1.45],[34.24,1.75],[34.34,2.0],[34.44,2.18],[34.56,2.28],[34.66,2.18],[34.73,1.8],[34.74,1.35],[34.71,.75]],
[[33.955,.32],[33.975,.4],[34.035,.59],[34.1,.85],[34.17,1.15],[34.25,1.5],[34.33,1.8],[34.42,2.03],[34.52,2.12],[34.63,2.05],[34.72,1.75],[34.735,1.3],[34.715,.8]],
[[33.99,.72],[34.06,.95],[34.14,1.22],[34.22,1.52],[34.3,1.78],[34.4,2.0],[34.5,2.06],[34.6,2.05],[34.7,1.85],[34.73,1.5],[34.72,.95]]
];
const g97=[
[[33.94,.92],[33.95,.85],[33.965,.55],[33.99,.62],[34.05,.82],[34.12,1.1],[34.2,1.42],[34.27,1.75],[34.36,1.98],[34.46,2.15],[34.57,2.22],[34.67,2.1],[34.735,1.85],[34.745,1.4],[34.72,.95],[34.705,.65]],
[[33.96,.7],[34.01,.88],[34.08,1.15],[34.16,1.5],[34.24,1.78],[34.32,1.98],[34.42,2.12],[34.52,2.2],[34.62,2.18],[34.71,1.95],[34.742,1.6],[34.725,1.05]],
[[33.97,.62],[34.03,.85],[34.1,1.15],[34.18,1.5],[34.26,1.82],[34.35,2.02],[34.45,2.18],[34.56,2.24],[34.66,2.15],[34.73,1.9],[34.748,1.55],[34.728,1.1],[34.71,.75]],
[[33.97,.8],[34.04,1.05],[34.12,1.38],[34.2,1.68],[34.28,1.95],[34.38,2.14],[34.5,2.24],[34.6,2.24],[34.68,2.12],[34.738,1.88],[34.75,1.5],[34.73,1.05]],
[[33.985,.9],[34.06,1.18],[34.14,1.48],[34.22,1.72],[34.3,1.97],[34.4,2.17],[34.52,2.26],[34.64,2.22],[34.72,2.0],[34.748,1.7]]
];
const g101=[
[[33.877,3.46],[33.885,3.35],[33.892,3.06],[33.885,2.95],[33.911,2.43],[33.925,1.57],[33.945,1.1],[33.966,.68],[34.03,.85],[34.1,1.18],[34.18,1.52],[34.25,1.8],[34.33,2.0],[34.43,2.15],[34.54,2.22],[34.64,2.16],[34.72,1.93],[34.748,1.6],[34.73,1.15],[34.712,.78]],
[[33.9,3.5],[33.907,3.35],[33.895,3.3],[33.911,2.8],[33.92,2.08],[33.94,1.55],[33.955,1.0],[33.97,.7],[34.04,.98],[34.12,1.32],[34.2,1.6],[34.28,1.88],[34.38,2.08],[34.48,2.2],[34.58,2.22],[34.68,2.08],[34.74,1.82],[34.745,1.4],[34.722,.95]],
[[33.975,.62],[34.05,.85],[34.13,1.22],[34.21,1.55],[34.3,1.88],[34.4,2.1],[34.5,2.18],[34.6,2.16],[34.69,2.02],[34.74,1.78],[34.742,1.3],[34.716,.85]],
[[33.98,.72],[34.02,.88],[34.08,1.0],[34.16,1.38],[34.24,1.72],[34.33,1.98],[34.44,2.12],[34.56,2.19],[34.66,2.1],[34.735,1.84],[34.735,1.25],[34.71,.8]],
[[33.985,.78],[34.06,1.08],[34.14,1.4],[34.22,1.68],[34.31,1.96],[34.4,2.12],[34.52,2.2],[34.62,2.18],[34.7,2.04],[34.745,1.76],[34.738,1.2],[34.718,.8]],
[[33.975,.66],[34.06,.92],[34.14,1.25],[34.22,1.6],[34.29,1.9],[34.36,2.05],[34.46,2.17],[34.56,2.22],[34.66,2.14],[34.73,1.92],[34.75,1.62],[34.732,1.1],[34.712,.72]]
];
const g105=[
[[33.913,4.05],[33.922,3.56],[33.934,2.45],[33.953,2.19],[33.98,1.57],[33.994,1.41],[34.026,1.33],[34.051,1.4],[34.063,1.31],[34.112,1.64],[34.134,1.35],[34.182,1.57],[34.215,1.62],[34.257,1.89],[34.32,2.01],[34.4,2.13],[34.5,2.2],[34.6,2.19],[34.68,2.06],[34.73,1.88],[34.748,1.77],[34.745,1.55],[34.733,1.29],[34.723,1.07],[34.71,.81],[34.705,.72]],
[[33.896,3.93],[33.906,3.59],[33.918,3.39],[33.913,2.58],[33.923,2.08],[33.94,1.5],[33.955,.95],[33.966,.64],[34.0,.75],[34.06,.98],[34.12,1.3],[34.19,1.58],[34.26,1.85],[34.33,2.02],[34.42,2.14],[34.52,2.2],[34.62,2.16],[34.7,2.0],[34.745,1.8],[34.74,1.45],[34.728,1.15],[34.715,.9],[34.708,.72]],
[[33.97,.68],[34.03,.82],[34.1,1.15],[34.17,1.48],[34.24,1.75],[34.3,1.95],[34.38,2.1],[34.48,2.18],[34.58,2.2],[34.66,2.1],[34.735,1.85],[34.748,1.6],[34.735,1.2],[34.72,.95],[34.71,.75]],
[[33.98,.7],[34.07,1.0],[34.15,1.36],[34.22,1.62],[34.3,1.92],[34.4,2.11],[34.5,2.2],[34.58,2.2],[34.67,2.1],[34.74,1.82],[34.742,1.35],[34.725,1.0],[34.712,.76]]
];
const groups=[g01,g05,g09,g13,g17,g21,g25,g29,g33,g37,g41,g45,g49,g53,g57,g61,g65,g69,g73,g77,g81,g85,g89,g93,g97,g101,g105];

// deep-layer horizontal spread bars: [low salinity, high salinity, theta]
const barsCyan=[[34.609,34.781,1.19],[34.606,34.776,1.13],[34.61,34.775,1.08],[34.598,34.778,.98]];
const barsGreen=[[34.66,34.735,.72],[34.662,34.735,.79],[34.665,34.737,.86],[34.668,34.738,.93],[34.672,34.74,1.03],[34.672,34.742,1.08],[34.67,34.745,1.14],[34.665,34.75,1.19]];
const barsRed=[[34.7,34.738,.76],[34.702,34.74,.83],[34.705,34.742,.9],[34.708,34.745,.97],[34.71,34.748,1.04],[34.712,34.75,1.11],[34.714,34.752,1.18],[34.725,34.762,1.3]];
const ringsBlue=[[34.7,.73],[34.699,.82],[34.7,.92],[34.703,1.0],[34.703,1.08],[34.705,1.18]];
const ringsRed=[[34.705,.73],[34.708,.8],[34.711,.87],[34.713,.94],[34.716,1.01],[34.718,1.08],[34.72,1.14],[34.723,1.2],[34.727,1.31]];
const ringSymbol='path://M50 0A50 50 0 1 1 49.99 0ZM50 8A42 42 0 1 0 50.01 8Z';

const series=[];
groups.forEach((g,i)=>g.forEach(p=>series.push({type:'line',name:String(legendCasts[i]),data:p,symbol:'none',silent:true,animation:false,clip:true,lineStyle:{width:3.9,color:castColors[i],cap:'round',join:'round'},itemStyle:{color:castColors[i]}})));
function addBars(b,col,w){b.forEach(r=>series.push({type:'line',name:'bars',data:[[r[0],r[2]],[r[1],r[2]]],symbol:'none',silent:true,animation:false,lineStyle:{width:w,color:col}}));}
addBars(barsCyan,castColors[8],1.5);addBars(barsGreen,castColors[14],2);addBars(barsRed,castColors[24],2.5);
function addRings(r,col,size){series.push({type:'line',name:'rings',data:r,symbol:ringSymbol,symbolSize:size,showSymbol:true,showAllSymbol:true,silent:true,animation:false,lineStyle:{width:0,opacity:0},itemStyle:{color:col}});}
addRings(ringsBlue,castColors[8],18);addRings(ringsRed,castColors[25],22);

const ink='#262626';
const sans='"Liberation Sans"';
const xMin=33.5896,xMax=34.8714,yMin=-2.037,yMax=7.876;
function axisCommon(ticks,showLabel,pad){return {
  axisLine:{show:true,onZero:false,lineStyle:{color:ink,width:5}},
  axisTick:{show:true,inside:true,length:14,customValues:ticks,lineStyle:{color:ink,width:4}},
  axisLabel:{show:showLabel,customValues:ticks,color:ink,fontFamily:sans,fontSize:29,margin:16,padding:pad,formatter:v=>String(v)},
  splitLine:{show:false}};}
const option={
  animation:false,backgroundColor:'#fff',
  title:{text:'(a) the Upper Salinity (b) Salinity',left:361,top:-29,textStyle:{fontFamily:sans,fontWeight:'bold',fontSize:30,color:'#000'}},
  grid:{left:104,right:202,top:11,bottom:91,containLabel:false,outerBoundsMode:'none'},
  xAxis:[
    Object.assign({type:'value',min:xMin,max:xMax,position:'bottom',name:'Salinity (PSS-78)',nameLocation:'middle',nameGap:56,nameTextStyle:{color:ink,fontFamily:sans,fontSize:31.5,padding:[0,8,0,0]}},axisCommon(xTicks,true,[2,10,0,0])),
    Object.assign({type:'value',min:xMin,max:xMax,position:'top'},axisCommon(xTicks,false,0))
  ],
  yAxis:[
    Object.assign({type:'value',min:yMin,max:yMax,position:'left',name:'{t|θ}  ° C',nameLocation:'middle',nameGap:55,nameRotate:90,nameTextStyle:{color:ink,fontFamily:sans,fontSize:31.5,rich:{t:{fontFamily:'"Liberation Serif"',fontStyle:'italic',fontSize:31.5,color:ink}}}},axisCommon(yTicks,true,[8,0,0,0])),
    Object.assign({type:'value',min:yMin,max:yMax,position:'right'},axisCommon(yTicks,false,0))
  ],
  legend:{show:true,orient:'vertical',left:1104,top:9,data:legendCasts.map(String),icon:'rect',itemWidth:53,itemHeight:3.5,itemGap:9.27,padding:[12,14,6,7],
    backgroundColor:'#fff',borderColor:ink,borderWidth:4,borderRadius:0,selectedMode:false,
    formatter:n=>'{a|'+n+'}',
    textStyle:{color:'#000',fontFamily:sans,fontSize:25,rich:{a:{width:44,align:'center',fontFamily:sans,fontSize:25,lineHeight:14,color:'#000'}}}},
  series
};
const chart=echarts.init(document.getElementById('c'),null,{renderer:'canvas'});
chart.setOption(option);
</script></body></html>
